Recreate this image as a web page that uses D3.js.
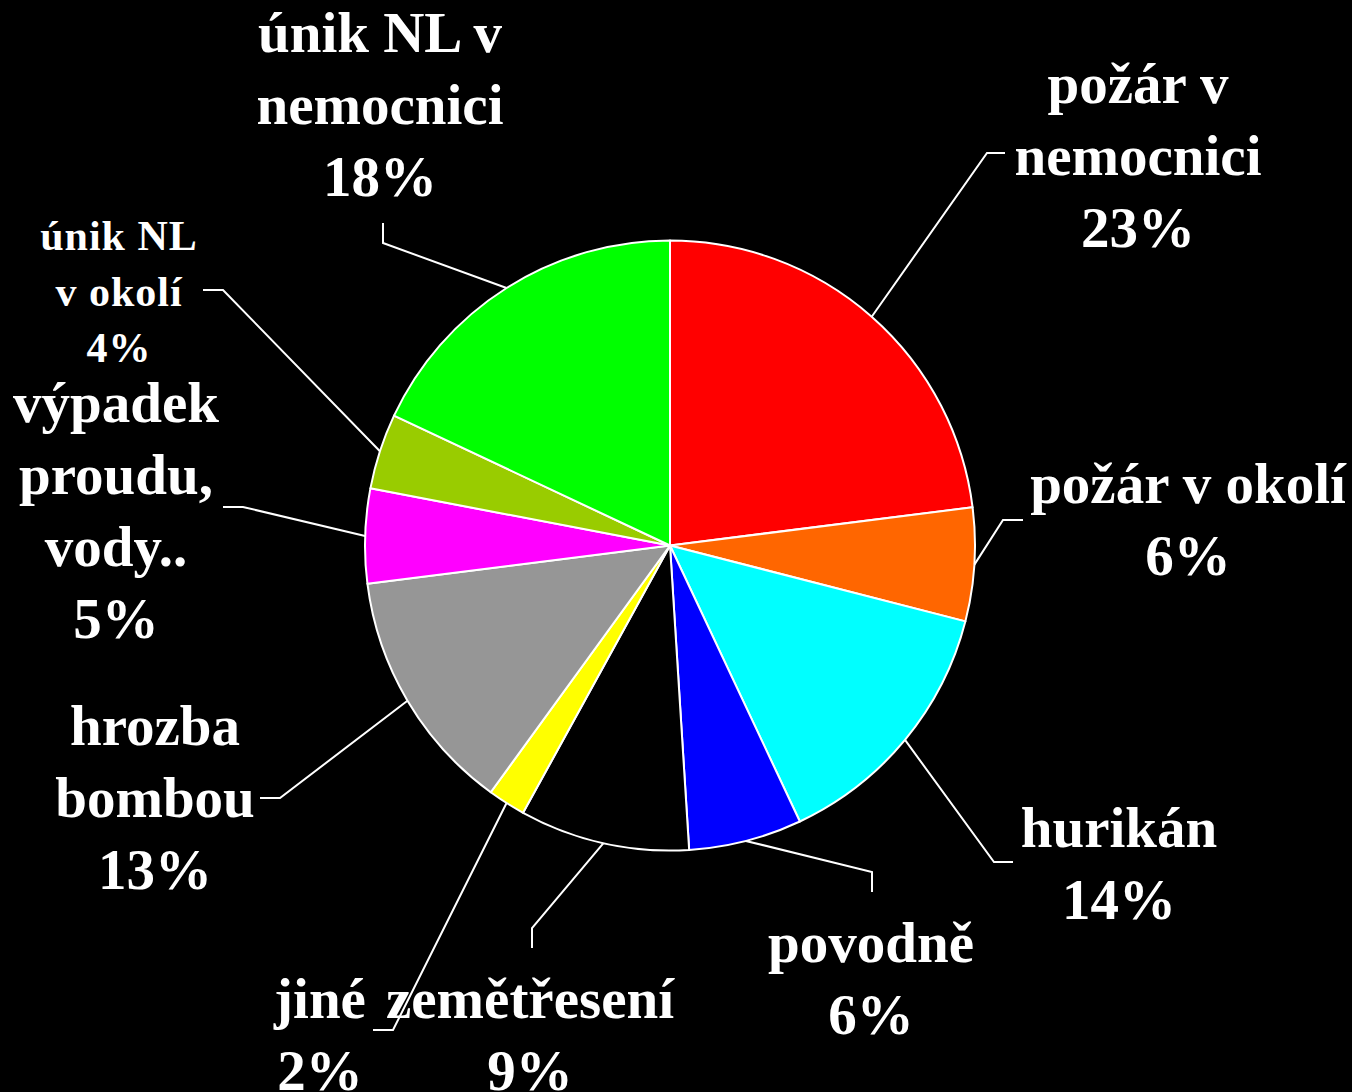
<!DOCTYPE html>
<html>
<head>
<meta charset="utf-8">
<script src="https://cdn.jsdelivr.net/npm/d3@7"></script>
<style>
  html, body { margin: 0; padding: 0; background: #000; }
  svg { display: block; }
  text { font-family: "Liberation Serif", "Times New Roman", serif; font-weight: bold; fill: #fff; }
</style>
</head>
<body>
<div id="chart"></div>
<script>
// data
const categories = ["požár v nemocnici", "požár v okolí", "hurikán", "povodně", "zemětřesení",
  "jiné", "hrozba bombou", "výpadek proudu, vody..", "únik NL v okolí", "únik NL v nemocnici"]
const values = [23, 6, 14, 6, 9, 2, 13, 5, 4, 18]
const colors = ["#ff0000", "#ff6600", "#00ffff", "#0000ff", "#000000",
  "#ffff00", "#969696", "#ff00ff", "#99cc00", "#00ff00"]

// label placement (text lines, first baseline, leader elbow and end)
const labelLayout = [
  {lines: ["požár v", "nemocnici"], x: 1138, y: 103, elbow: [987, 153], end: [1005, 153]},
  {lines: ["požár v okolí"], x: 1188, y: 503, elbow: [1003, 520], end: [1023, 520]},
  {lines: ["hurikán"], x: 1119, y: 847, elbow: [994, 862], end: [1013, 862]},
  {lines: ["povodně"], x: 871, y: 962, elbow: [872, 872], end: [872, 892]},
  {lines: ["zemětřesení"], x: 530, y: 1018, elbow: [532, 928], end: [532, 948]},
  {lines: ["jiné"], x: 320, y: 1018, elbow: [393, 1030], end: [373, 1030]},
  {lines: ["hrozba", "bombou"], x: 155, y: 745, elbow: [280, 798], end: [260, 798]},
  {lines: ["výpadek", "proudu,", "vody.."], x: 116, y: 422, elbow: [243, 507], end: [223, 507]},
  {lines: ["únik NL", "v okolí"], x: 119, y: 250, elbow: [223, 290], end: [203, 290], small: true},
  {lines: ["únik NL v", "nemocnici"], x: 380, y: 52, elbow: [383, 243], end: [383, 223]}
]

let width = 1352
let height = 1092
let cx = 670
let cy = 545.5
let radius = 305

let svg = d3.select("#chart")
  .append("svg")
  .attr("width", width)
  .attr("height", height)

svg.append("rect")
  .attr("width", width)
  .attr("height", height)
  .attr("fill", "#000")

let pie = d3.pie().sort(null).value(d => d)
let arcs = pie(values)

let arc = d3.arc().innerRadius(0).outerRadius(radius)
let edge = d3.arc().innerRadius(radius).outerRadius(radius)

let g = svg.append("g")
  .attr("transform", "translate(" + cx + "," + cy + ")")

//slices
g.selectAll("path")
  .data(arcs)
  .enter()
  .append("path")
  .attr("d", arc)
  .attr("fill", (d, i) => colors[i])
  .attr("stroke", "#fff")
  .attr("stroke-width", 2)
  .attr("stroke-linejoin", "round")

//leader lines
svg.selectAll("polyline")
  .data(arcs)
  .enter()
  .append("polyline")
  .attr("points", (d, i) => {
    let c = edge.centroid(d)
    let l = labelLayout[i]
    return [[c[0] + cx, c[1] + cy], l.elbow, l.end].map(p => p.join(",")).join(" ")
  })
  .attr("fill", "none")
  .attr("stroke", "#fff")
  .attr("stroke-width", 2)

//labels
arcs.forEach((d, i) => {
  let l = labelLayout[i]
  let fontSize = l.small ? 42 : 57
  let lineHeight = l.small ? 56 : 72
  let text = svg.append("text")
    .attr("x", l.x)
    .attr("y", l.y)
    .style("text-anchor", "middle")
    .style("font-size", fontSize + "px")
    .style("letter-spacing", l.small ? "1px" : "0px")
  let lines = l.lines.concat([values[i] + "%"])
  lines.forEach((t, k) => {
    text.append("tspan")
      .attr("x", l.x)
      .attr("y", l.y + k * lineHeight)
      .text(t)
  })
})
</script>
</body>
</html>
